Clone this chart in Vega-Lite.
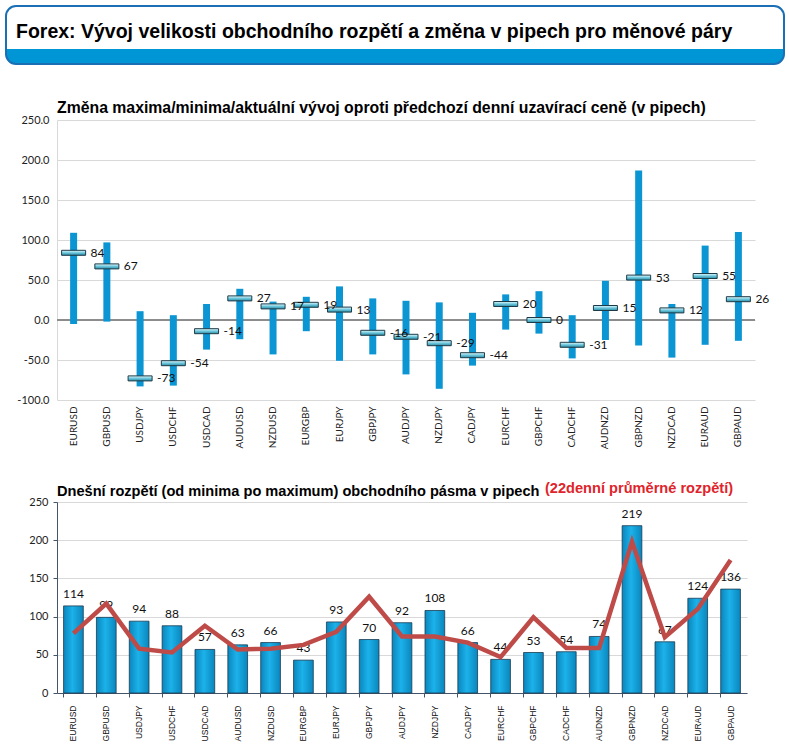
{
  "$schema": "https://vega.github.io/schema/vega-lite/v6.json",
  "padding": {"left": 5, "top": 5, "right": 5, "bottom": 5},
  "background": "white",
  "datasets": {
    "fx": [
      {"pair": "EURUSD", "high": 109, "low": -5, "cur": 84, "range": 114, "avg": 78},
      {"pair": "GBPUSD", "high": 97, "low": -2, "cur": 67, "range": 99, "avg": 117},
      {"pair": "USDJPY", "high": 11, "low": -83, "cur": -73, "range": 94, "avg": 58},
      {"pair": "USDCHF", "high": 6, "low": -82, "cur": -54, "range": 88, "avg": 53},
      {"pair": "USDCAD", "high": 20, "low": -37, "cur": -14, "range": 57, "avg": 88},
      {"pair": "AUDUSD", "high": 39, "low": -24, "cur": 27, "range": 63, "avg": 57},
      {"pair": "NZDUSD", "high": 23, "low": -43, "cur": 17, "range": 66, "avg": 58},
      {"pair": "EURGBP", "high": 29, "low": -14, "cur": 19, "range": 43, "avg": 63},
      {"pair": "EURJPY", "high": 42, "low": -51, "cur": 13, "range": 93, "avg": 80},
      {"pair": "GBPJPY", "high": 27, "low": -43, "cur": -16, "range": 70, "avg": 126},
      {"pair": "AUDJPY", "high": 24, "low": -68, "cur": -21, "range": 92, "avg": 74},
      {"pair": "NZDJPY", "high": 22, "low": -86, "cur": -29, "range": 108, "avg": 74},
      {"pair": "CADJPY", "high": 9, "low": -57, "cur": -44, "range": 66, "avg": 66},
      {"pair": "EURCHF", "high": 32, "low": -12, "cur": 20, "range": 44, "avg": 47},
      {"pair": "GBPCHF", "high": 36, "low": -17, "cur": 0, "range": 53, "avg": 99},
      {"pair": "CADCHF", "high": 6, "low": -48, "cur": -31, "range": 54, "avg": 59},
      {"pair": "AUDNZD", "high": 49, "low": -25, "cur": 15, "range": 74, "avg": 59},
      {"pair": "GBPNZD", "high": 187, "low": -32, "cur": 53, "range": 219, "avg": 198},
      {"pair": "NZDCAD", "high": 20, "low": -47, "cur": 12, "range": 67, "avg": 73},
      {"pair": "EURAUD", "high": 93, "low": -31, "cur": 55, "range": 124, "avg": 110},
      {"pair": "GBPAUD", "high": 110, "low": -26, "cur": 26, "range": 136, "avg": 174}
    ]
  },
  "vconcat": [
    {
      "width": 778,
      "height": 58,
      "title": {"text": "Forex: Vývoj velikosti obchodního rozpětí a změna v pipech pro měnové páry",
                "font": "Liberation Sans", "fontSize": 19.5, "fontWeight": "bold", "color": "#000000",
                "anchor": "start", "frame": "group", "offset": -36, "dx": 10},
      "view": {
        "stroke": "#1a6fb5",
        "strokeWidth": 2,
        "cornerRadius": 10,
        "fill": {
          "gradient": "linear", "x1": 0, "y1": 0, "x2": 0, "y2": 1,
          "stops": [
            {"offset": 0, "color": "#ffffff"},
            {"offset": 0.74, "color": "#ffffff"},
            {"offset": 0.745, "color": "#0096d6"},
            {"offset": 1, "color": "#0096d6"}
          ]
        }
      },
      "data": {"values": []},
      "mark": {"type": "point"},
      "encoding": {}
    },
    {
      "hconcat": [
        {
          "width": 1,
          "height": 1,
          "data": {"values": []},
          "mark": {"type": "point"},
          "encoding": {}
        },
        {
          "vconcat": [
            {
              "width": 698,
              "height": 280,
              "title": {"text": "Změna maxima/minima/aktuální vývoj oproti předchozí denní uzavírací ceně (v pipech)", "offset": -3, "fontSize": 15.8},
              "data": {"name": "fx"},
              "layer": [
                {
                  "mark": {"type": "rule", "color": "#8c8c8c", "strokeWidth": 1},
                  "encoding": {
                    "y": {"datum": 0, "type": "quantitative",
                          "scale": {"domain": [-100, 250], "nice": false},
                          "axis": {"title": null, "tickCount": 20, "values": [-100, -50, 0, 50, 100, 150, 200, 250], "format": ".1f",
                                   "labelExpr": "replace(datum.label, '−', '-')",
                                   "labelOverlap": false, "grid": true,
                                   "labelFontSize": 11, "labelFont": "Lato", "labelColor": "#222222",
                                   "ticks": false, "labelPadding": 8, "minExtent": 50,
                                   "domain": true, "domainColor": "#d9d9d9", "gridColor": "#d9d9d9"}}
                  }
                },
                {
                  "mark": {"type": "bar", "size": 7, "color": "#0b95d3"},
                  "encoding": {
                    "x": {"field": "pair", "type": "nominal", "sort": null,
                          "scale": {"paddingInner": 0.4, "paddingOuter": 0.2},
                          "axis": {"title": null, "labelAngle": -90, "labelFontSize": 10, "labelFont": "Lato",
                                   "domain": false, "ticks": false, "labelPadding": 6, "labelColor": "#222222"}},
                    "y": {"field": "low", "type": "quantitative"},
                    "y2": {"field": "high"}
                  }
                },
                {
                  "mark": {"type": "tick", "size": 24, "thickness": 5, "opacity": 1,
                           "fill": {"gradient": "linear", "x1": 0, "y1": 0, "x2": 0, "y2": 1,
                                    "stops": [{"offset": 0, "color": "#e6fbff"}, {"offset": 0.5, "color": "#6cc7dc"}, {"offset": 1, "color": "#2b8aa3"}]},
                           "stroke": "#1d3b47", "strokeWidth": 1},
                  "encoding": {
                    "x": {"field": "pair", "type": "nominal", "sort": null},
                    "y": {"field": "cur", "type": "quantitative"}
                  }
                },
                {
                  "mark": {"type": "text", "align": "left", "baseline": "middle", "dx": 17, "font": "Lato", "fontSize": 12, "color": "#111111"},
                  "encoding": {
                    "x": {"field": "pair", "type": "nominal", "sort": null},
                    "y": {"field": "cur", "type": "quantitative"},
                    "text": {"field": "cur", "type": "nominal"}
                  }
                }
              ]
            },
            {
              "width": 690,
              "height": 191,
              "title": {"text": "Dnešní rozpětí (od minima po maximum) obchodního pásma v pipech", "offset": -18, "fontSize": 14.6},
              "layer": [
                {
                  "data": {"name": "fx"},
                  "mark": {"type": "bar",
                           "fill": {"gradient": "linear", "x1": 0, "y1": 0, "x2": 1, "y2": 0,
                                    "stops": [{"offset": 0, "color": "#0a86bd"}, {"offset": 0.45, "color": "#1cb2ea"}, {"offset": 1, "color": "#0a86bd"}]},
                           "stroke": "#1b3b52", "strokeWidth": 0.8},
                  "encoding": {
                    "x": {"field": "pair", "type": "nominal", "sort": null,
                          "scale": {"paddingInner": 0.4, "paddingOuter": 0.2},
                          "axis": {"title": null, "labelAngle": -90, "labelFontSize": 8.5,
                                   "labelFont": "Liberation Sans", "labelColor": "#111111",
                                   "domainColor": "#44546a", "tickColor": "#44546a", "tickSize": 4, "bandPosition": 0,
                                   "labelPadding": 8}},
                    "y": {"field": "range", "type": "quantitative",
                          "scale": {"domain": [0, 250], "nice": false},
                          "axis": {"title": null, "tickCount": 20, "values": [0, 50, 100, 150, 200, 250], "labelFontSize": 11,
                                   "labelOverlap": false, "grid": true,
                                   "labelFont": "Lato", "labelColor": "#222222", "tickSize": 4, "tickColor": "#44546a",
                                   "domainColor": "#44546a", "labelPadding": 5, "minExtent": 47, "gridColor": "#d9d9d9"}}
                  }
                },
                {
                  "data": {"name": "fx"},
                  "mark": {"type": "text", "baseline": "bottom", "dy": -5, "font": "Lato", "fontSize": 12, "color": "#111111"},
                  "encoding": {
                    "x": {"field": "pair", "type": "nominal", "sort": null},
                    "y": {"field": "range", "type": "quantitative"},
                    "text": {"field": "range", "type": "quantitative"}
                  }
                },
                {
                  "data": {"name": "fx"},
                  "mark": {"type": "line", "color": "#be4b48", "strokeWidth": 4.5, "strokeJoin": "miter"},
                  "encoding": {
                    "x": {"field": "pair", "type": "nominal", "sort": null},
                    "y": {"field": "avg", "type": "quantitative"}
                  }
                },
                {
                  "data": {"values": [{"t": "(22denní průměrné rozpětí)"}]},
                  "mark": {"type": "text", "align": "left", "baseline": "alphabetic", "x": 488, "y": -9,
                           "font": "Liberation Sans", "fontSize": 14.6, "fontWeight": "bold", "color": "#e0242b"},
                  "encoding": {"text": {"field": "t"}}
                }
              ]
            }
          ],
          "spacing": 32
        }
      ],
      "spacing": 0
    }
  ],
  "spacing": 35,
  "config": {
    "view": {"stroke": null},
    "title": {"font": "Liberation Sans", "fontSize": 15, "fontWeight": "bold", "color": "#000000", "anchor": "start", "frame": "group"},
    "axis": {"gridColor": "#d9d9d9"}
  }
}
